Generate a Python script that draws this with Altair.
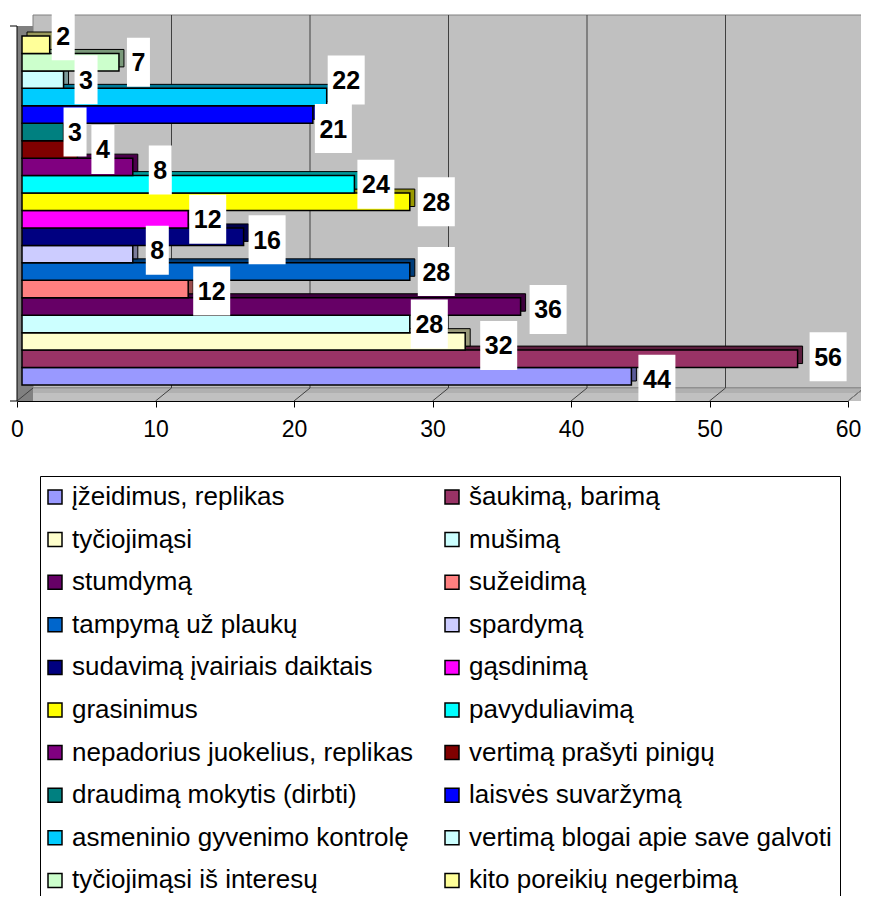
import altair as alt
import pandas as pd

# ---------------- data (legend order = bottom bar first) ----------------
CATEGORIES = [
    "įžeidimus, replikas", "šaukimą, barimą", "tyčiojimąsi", "mušimą",
    "stumdymą", "sužeidimą", "tampymą už plaukų", "spardymą",
    "sudavimą įvairiais daiktais", "gąsdinimą", "grasinimus", "pavyduliavimą",
    "nepadorius juokelius, replikas", "vertimą prašyti pinigų",
    "draudimą mokytis (dirbti)", "laisvės suvaržymą",
    "asmeninio gyvenimo kontrolę", "vertimą blogai apie save galvoti",
    "tyčiojimąsi iš interesų", "kito poreikių negerbimą",
]
VALUES = [44, 56, 32, 28, 36, 12, 28, 8, 16, 12, 28, 24, 8, 4, 3, 21, 22, 3, 7, 2]
AXIS_TICKS = [0, 10, 20, 30, 40, 50, 60]

# ---------------- styles ----------------
COLORS = [
    "#9999FF", "#993366", "#FFFFCC", "#CCFFFF", "#660066", "#FF8080",
    "#0066CC", "#CCCCFF", "#000080", "#FF00FF", "#FFFF00", "#00FFFF",
    "#800080", "#800000", "#008080", "#0000FF", "#00CCFF", "#CCFFFF",
    "#CCFFCC", "#FFFF99",
]
# label box nudges in px: (gap right of bar end, vertical shift)
LABEL_NUDGE = {
    "kito poreikių negerbimą": (2, -9),
    "tyčiojimąsi iš interesų": (8, 0),
    "vertimą blogai apie save galvoti": (11, 0),
    "asmeninio gyvenimo kontrolę": (1, -17),
    "laisvės suvaržymą": (2, 14),
    "draudimą mokytis (dirbti)": (0, 0),
    "vertimą prašyti pinigų": (14, 0),
    "nepadorius juokelius, replikas": (16, 3),
    "pavyduliavimą": (3, 0),
    "grasinimus": (8, 0),
    "gąsdinimą": (1, 0),
    "sudavimą įvairiais daiktais": (5, 3),
    "spardymą": (13, -4),
    "tampymą už plaukų": (8, 0),
    "sužeidimą": (5, 2),
    "stumdymą": (9, 3),
    "mušimą": (1, 0),
    "tyčiojimąsi": (15, 4),
    "šaukimą, barimą": (12, -2),
    "įžeidimus, replikas": (7, 3),
}
FONT = "Liberation Sans, Arial, sans-serif"
X_MAX = 60
W, H = 831, 386
BAR_TOP, BAR_BOTTOM = 21, 370
DEPTH = 16
N = len(CATEGORIES)
PXU_X = W / X_MAX
PXU_Y = (BAR_BOTTOM - BAR_TOP) / N


def shade(hexc, f=0.6):
    r, g, b = (int(hexc[i:i + 2], 16) for i in (1, 3, 5))
    return "#%02X%02X%02X" % (int(r * f), int(g * f), int(b * f))


rows = []
for i, (c, v, col) in enumerate(zip(CATEGORIES, VALUES, COLORS)):
    pos = N - 1 - i
    dx, dy = LABEL_NUDGE.get(c, (7, 0))
    w = 23 if v < 10 else 37
    cy = pos + 0.5 + dy / PXU_Y
    rows.append(dict(
        cat=c, value=v, zero=0, y0=pos, y1=pos + 1, shade=shade(col),
        lx0=v + dx / PXU_X, lx1=v + (dx + w) / PXU_X, lxc=v + (dx + w / 2) / PXU_X,
        ly=cy, ly0=cy - 24.5 / PXU_Y, ly1=cy + 24.5 / PXU_Y, label=str(v),
    ))
df = pd.DataFrame(rows)
box = pd.DataFrame({"a": [0], "b": [X_MAX]})
grid = pd.DataFrame({"t": AXIS_TICKS})

xs = alt.Scale(domain=[0, X_MAX], nice=False, zero=False)
ys = alt.Scale(domain=[0, N], range=[BAR_TOP, BAR_BOTTOM], nice=False, zero=False)
X_AXIS = alt.Axis(values=AXIS_TICKS, title=None, grid=False, labelFontSize=23,
                  labelFont=FONT, labelColor="black", tickColor="black",
                  domainColor="black", tickSize=6, labelPadding=11, zindex=1,
                  labelFlush=False, labelOverlap=False, format="d")

LEGEND = alt.Legend(
    title=None, orient="none", legendX=23, legendY=461, columns=2,
    direction="horizontal",
    columnPadding=28, rowPadding=16.6, symbolType="square", symbolSize=196,
    symbolStrokeColor="black", symbolStrokeWidth=1.5,
    symbolOffset=alt.ExprRef(expr="-6"),
    labelFont=FONT, labelFontSize=26, labelColor="black", labelLimit=700,
    labelOffset=4, strokeColor="black", padding=8,
    fillColor="white",
)

back_wall = alt.Chart(box).mark_rect(
    fill="#C0C0C0", stroke="#808080", strokeWidth=1,
    xOffset=DEPTH, x2Offset=DEPTH,
).encode(x=alt.X("a:Q", scale=xs, axis=X_AXIS), x2="b:Q",
         y=alt.value(0), y2=alt.value(373))

floor = alt.Chart(box).mark_rect(fill="#C0C0C0", x2Offset=DEPTH).encode(
    x=alt.X("a:Q", scale=xs, axis=X_AXIS), x2="b:Q",
    y=alt.value(373), y2=alt.value(386))

floor_strip = alt.Chart(box).mark_rect(fill="#B0B0B0", xOffset=12, x2Offset=DEPTH).encode(
    x=alt.X("a:Q", scale=xs, axis=X_AXIS), x2="b:Q",
    y=alt.value(374), y2=alt.value(378))

floor_back = alt.Chart(box).mark_rule(color="#808080", strokeWidth=1,
                                      xOffset=DEPTH, x2Offset=DEPTH).encode(
    x=alt.X("a:Q", scale=xs, axis=X_AXIS), x2="b:Q", y=alt.value(373))

left_wall = alt.Chart(box).mark_rect(fill="#808080", x2Offset=DEPTH).encode(
    x=alt.X("a:Q", scale=xs, axis=X_AXIS), x2="a:Q",
    y=alt.value(11), y2=alt.value(386))

grid_back = alt.Chart(grid).transform_filter("datum.t > 0 && datum.t < 60").mark_rule(
    color="#404040", strokeWidth=1, xOffset=DEPTH).encode(
    x=alt.X("t:Q", scale=xs, axis=X_AXIS), y=alt.value(0), y2=alt.value(373))

grid_floor = alt.Chart(grid).mark_rule(color="#404040", strokeWidth=1, x2Offset=DEPTH).encode(
    x=alt.X("t:Q", scale=xs, axis=X_AXIS), x2="t:Q", y=alt.value(386), y2=alt.value(373))

right_edge = alt.Chart(box).mark_rule(color="#808080", strokeWidth=1, x2Offset=DEPTH).encode(
    x=alt.X("b:Q", scale=xs, axis=X_AXIS), x2="b:Q", y=alt.value(386), y2=alt.value(373))

shadow = alt.Chart(df).mark_rect(
    stroke="black", strokeWidth=1, xOffset=10, x2Offset=10, yOffset=-4, y2Offset=-4,
).encode(
    x=alt.X("zero:Q", scale=xs, axis=X_AXIS), x2="value:Q",
    y=alt.Y("y0:Q", scale=ys, axis=None), y2="y1:Q",
    fill=alt.Fill("shade:N", scale=None),
)

bars = alt.Chart(df).mark_rect(stroke="black", strokeWidth=1.5, xOffset=5, x2Offset=5).encode(
    x=alt.X("zero:Q", scale=xs, axis=X_AXIS), x2="value:Q",
    y=alt.Y("y0:Q", scale=ys, axis=None), y2="y1:Q",
    fill=alt.Fill("cat:N", scale=alt.Scale(domain=CATEGORIES, range=COLORS), legend=LEGEND),
)

label_box = alt.Chart(df).mark_rect(fill="white", xOffset=5, x2Offset=5).encode(
    x=alt.X("lx0:Q", scale=xs, axis=X_AXIS), x2="lx1:Q",
    y=alt.Y("ly0:Q", scale=ys, axis=None), y2="ly1:Q",
)

label_text = alt.Chart(df).mark_text(
    font=FONT, fontSize=25, fontWeight="bold", color="black",
    align="center", baseline="middle", xOffset=5, dy=1,
).encode(
    x=alt.X("lxc:Q", scale=xs, axis=X_AXIS),
    y=alt.Y("ly:Q", scale=ys, axis=None), text="label:N",
)

y_line = alt.Chart(box).mark_rule(color="black", strokeWidth=1).encode(
    x=alt.X("a:Q", scale=xs, axis=X_AXIS), y=alt.value(11), y2=alt.value(386))
y_tick_top = alt.Chart(box).mark_rule(color="black", strokeWidth=1, xOffset=-7).encode(
    x=alt.X("a:Q", scale=xs, axis=X_AXIS), x2="a:Q", y=alt.value(11))
y_tick_bot = alt.Chart(box).mark_rule(color="black", strokeWidth=1, xOffset=-7).encode(
    x=alt.X("a:Q", scale=xs, axis=X_AXIS), x2="a:Q", y=alt.value(386))

chart = alt.layer(
    back_wall, floor, floor_strip, floor_back, left_wall, grid_back, grid_floor,
    right_edge, shadow, bars, label_box, label_text, y_line, y_tick_top, y_tick_bot,
).properties(
    width=W, height=H,
    padding={"left": 9, "top": 7, "right": 13, "bottom": 495},
    autosize=alt.AutoSizeParams(type="none"),
    background="white",
).configure_view(stroke=None)

chart.save("out.html", embed_options={"renderer": "svg", "actions": False})
